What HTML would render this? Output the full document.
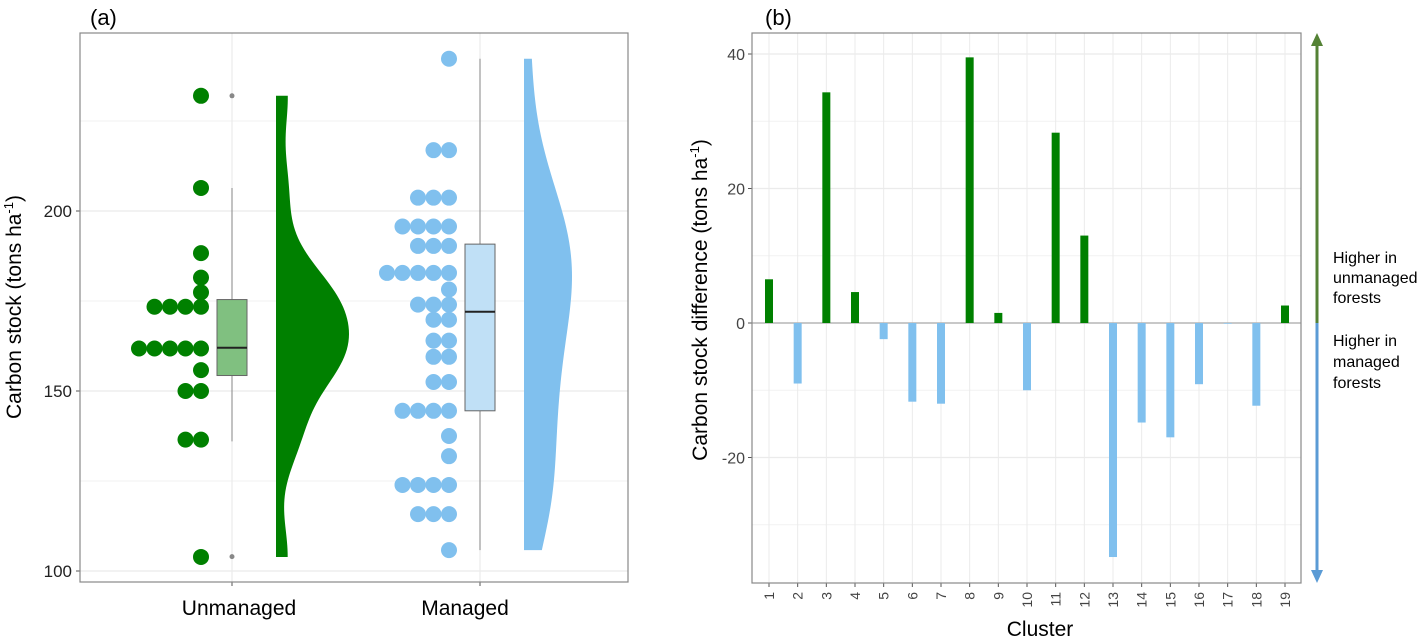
<!DOCTYPE html>
<html><head><meta charset="utf-8">
<style>
body{margin:0;background:#fff;}
svg{display:block;font-family:"Liberation Sans",Arial,sans-serif;}
</style></head>
<body>
<svg id="chart" width="1425" height="636" viewBox="0 0 1425 636">
</svg>
<script>
// ---- Panel (a) data: dot rows [value, count]
const unmanagedRowValues = [232, 206.4, 188.3, 181.5, 177.4, 173.4, 161.8, 155.8, 150, 136.5, 103.9];
const unmanagedRowCounts = [1, 1, 1, 1, 1, 4, 5, 1, 2, 2, 1];
const managedRowValues = [242.3, 216.9, 203.7, 195.7, 190.3, 182.8, 178.2, 174, 169.8, 164, 159.5, 152.5, 144.5, 137.5, 131.9, 123.9, 115.8, 105.8];
const managedRowCounts = [1, 2, 3, 4, 3, 5, 1, 3, 2, 2, 2, 2, 4, 1, 1, 4, 3, 1];
const unmanagedBox = [136, 154.3, 162, 175.4, 206.4]; // lower whisker, q1, median, q3, upper whisker
const managedBox = [105.8, 144.5, 172, 190.8, 242.3];
const unmanagedOutliers = [232, 104];
const aTicks = [100, 150, 200];
const aMinorTicks = [125, 175, 225];
const groupLabels = ["Unmanaged", "Managed"];
// ---- Panel (b) data
const clusters = ["1","2","3","4","5","6","7","8","9","10","11","12","13","14","15","16","17","18","19"];
const differences = [6.5, -9, 34.3, 4.6, -2.4, -11.7, -12, 39.5, 1.5, -10, 28.3, 13, -34.8, -14.8, -17, -9.1, -0.1, -12.3, 2.6];
const bTicks = [-20, 0, 20, 40];
const bMinorTicks = [-30, -10, 10, 30];

const NS = "http://www.w3.org/2000/svg";
const svg = document.getElementById('chart');
function mk(tag, attrs, parent){
  const e = document.createElementNS(NS, tag);
  for (const k in attrs) e.setAttribute(k, attrs[k]);
  (parent || svg).appendChild(e);
  return e;
}
const GREEN = "#008000", BLUE = "#80c0ee";

// ===== Panel A =====
const ax = {l:80, r:628, t:33, b:582};
const yA = v => 211 + (200 - v) * 3.6;
const gA = mk('g', {});


aMinorTicks.forEach(t => {
  const l = mk('line', {x1:ax.l, x2:ax.r, y1:yA(t), y2:yA(t), stroke:"#f2f2f2", "stroke-width":1}, gA);
  
  
});
aTicks.forEach(t => {
  const l = mk('line', {x1:ax.l, x2:ax.r, y1:yA(t), y2:yA(t), stroke:"#ebebeb", "stroke-width":1.2}, gA);
  
  
  const tk = mk('line', {x1:ax.l-4, x2:ax.l, y1:yA(t), y2:yA(t), stroke:"#555"}, gA);
  
  
  const tx = mk('text', {x:72, y:yA(t)+6, "text-anchor":"end", "font-size":17, fill:"#222"}, gA);
  tx.textContent = t;
  
  
});
const groupX = [232, 480];
const dotX = [201, 449];
const violinX = [276, 524];
const labelX = [239, 465];
groupX.forEach((gx, i) => {
  const l = mk('line', {x1:gx, x2:gx, y1:ax.t, y2:ax.b, stroke:"#ebebeb", "stroke-width":1.2}, gA);
  
  
  const tk = mk('line', {x1:gx, x2:gx, y1:ax.b, y2:ax.b+4, stroke:"#555"}, gA);
  
  
  const tx = mk('text', {x:labelX[i], y:615, "text-anchor":"middle", "font-size":21, fill:"#000"}, gA);
  tx.textContent = groupLabels[i];
  
  
});

// dots
function drawDots(vals, counts, cx, color, name){
  vals.forEach((v, i) => {
    for (let k = 0; k < counts[i]; k++){
      const c = mk('circle', {cx: cx - k*15.5, cy: yA(v), r: 8, fill: color}, gA);
      
      
    }
  });
}
drawDots(unmanagedRowValues, unmanagedRowCounts, dotX[0], GREEN, 'unmanaged-dot');
drawDots(managedRowValues, managedRowCounts, dotX[1], BLUE, 'managed-dot');

// boxes
function drawBox(b, cx, fill, name){
  const w = mk('line', {x1:cx, x2:cx, y1:yA(b[4]), y2:yA(b[0]), stroke:"#888", "stroke-width":1}, gA);
  
  
  const r = mk('rect', {x:cx-15, y:yA(b[3]), width:30, height:yA(b[1])-yA(b[3]), fill:fill, stroke:"#666", "stroke-width":1}, gA);
  
  
  const m = mk('line', {x1:cx-15, x2:cx+15, y1:yA(b[2]), y2:yA(b[2]), stroke:"#222", "stroke-width":2}, gA);
  
  
}
drawBox(unmanagedBox, groupX[0], "#80c080", 'unmanaged');
drawBox(managedBox, groupX[1], "#c0e0f6", 'managed');
unmanagedOutliers.forEach(v => {
  const c = mk('circle', {cx:groupX[0], cy:yA(v), r:2.5, fill:"#888"}, gA);
  
  
});

// half violins (KDE from dot data)
function drawViolin(vals, counts, x0, maxW, bw, color, name){
  const pts = [];
  vals.forEach((v, i) => { for (let k = 0; k < counts[i]; k++) pts.push(v); });
  const lo = Math.min(...pts), hi = Math.max(...pts);
  const N = 120, dens = [];
  for (let j = 0; j <= N; j++){
    const y = lo + (hi - lo) * j / N;
    let s = 0;
    pts.forEach(p => { const z = (y - p) / bw; s += Math.exp(-0.5*z*z); });
    dens.push([y, s]);
  }
  const mx = Math.max(...dens.map(d => d[1]));
  let d = `M${x0},${yA(lo)}`;
  dens.forEach(([y, s]) => { d += ` L${x0 + 4 + (maxW-4) * s / mx},${yA(y)}`; });
  d += ` L${x0},${yA(hi)} Z`;
  const p = mk('path', {d:d, fill:color}, gA);
  
  
}
drawViolin(unmanagedRowValues, unmanagedRowCounts, violinX[0], 73, 9, GREEN, 'unmanaged-violin');
drawViolin(managedRowValues, managedRowCounts, violinX[1], 48, 15, BLUE, 'managed-violin');

const frA = mk('rect', {x:ax.l, y:ax.t, width:ax.r-ax.l, height:ax.b-ax.t, fill:"none", stroke:"#888", "stroke-width":1.2}, gA);


const ytA = mk('text', {x:0, y:0, transform:"translate(21,307) rotate(-90)", "text-anchor":"middle", "font-size":21}, gA);
ytA.innerHTML = 'Carbon stock (tons ha<tspan dy="-8" font-size="13">-1</tspan><tspan dy="8">)</tspan>';


const la = mk('text', {x:90, y:25, "font-size":22}, gA);
la.textContent = "(a)";



// ===== Panel B =====
const bx = {l:752, r:1301, t:33, b:583};
const yB = v => 323 - v * 6.725;
const xB = i => 769 + i * (1285 - 769) / 18;
const gB = mk('g', {});


bMinorTicks.forEach(t => {
  const l = mk('line', {x1:bx.l, x2:bx.r, y1:yB(t), y2:yB(t), stroke:"#f2f2f2"}, gB);
  
  
});
bTicks.forEach(t => {
  const l = mk('line', {x1:bx.l, x2:bx.r, y1:yB(t), y2:yB(t), stroke:"#ebebeb", "stroke-width":1.2}, gB);
  
  
  const tk = mk('line', {x1:bx.l-4, x2:bx.l, y1:yB(t), y2:yB(t), stroke:"#555"}, gB);
  
  
  const tx = mk('text', {x:745, y:yB(t)+6, "text-anchor":"end", "font-size":16, fill:"#444"}, gB);
  tx.textContent = t;
  
  
});
clusters.forEach((c, i) => {
  const x = xB(i);
  const l = mk('line', {x1:x, x2:x, y1:bx.t, y2:bx.b, stroke:"#ebebeb"}, gB);
  
  
  const tk = mk('line', {x1:x, x2:x, y1:bx.b, y2:bx.b+4, stroke:"#555"}, gB);
  
  
  const tx = mk('text', {x:0, y:0, transform:`translate(${x+5},${bx.b+9}) rotate(-90)`, "text-anchor":"end", "font-size":14, fill:"#444"}, gB);
  tx.textContent = c;
  
  
});
const zl = mk('line', {x1:bx.l, x2:bx.r, y1:yB(0), y2:yB(0), stroke:"#aaa", "stroke-width":1.2}, gB);


differences.forEach((v, i) => {
  const x = xB(i);
  const y0 = yB(Math.max(v, 0)), y1 = yB(Math.min(v, 0));
  const r = mk('rect', {x:x-4, y:y0, width:8, height:Math.max(y1-y0, 0.5), fill: v >= 0 ? GREEN : BLUE}, gB);
  
  
});
const frB = mk('rect', {x:bx.l, y:bx.t, width:bx.r-bx.l, height:bx.b-bx.t, fill:"none", stroke:"#888", "stroke-width":1.2}, gB);


const ytB = mk('text', {x:0, y:0, transform:"translate(707,300) rotate(-90)", "text-anchor":"middle", "font-size":21}, gB);
ytB.innerHTML = 'Carbon stock difference (tons ha<tspan dy="-8" font-size="13">-1</tspan><tspan dy="8">)</tspan>';


const xtB = mk('text', {x:1040, y:636, "text-anchor":"middle", "font-size":21}, gB);
xtB.textContent = "Cluster";


const lb = mk('text', {x:765, y:25, "font-size":22}, gB);
lb.textContent = "(b)";



// arrows
const aG = mk('line', {x1:1317, x2:1317, y1:44, y2:yB(0), stroke:"#548235", "stroke-width":3}, gB);


const hG = mk('polygon', {points:"1311,46 1317,33 1323,46", fill:"#548235"}, gB);


const aBl = mk('line', {x1:1317, x2:1317, y1:yB(0), y2:572, stroke:"#5b9bd5", "stroke-width":3}, gB);


const hB = mk('polygon', {points:"1311,570 1317,583 1323,570", fill:"#5b9bd5"}, gB);


[["Higher in",257],["unmanaged",277],["forests",297]].forEach(([t,y]) => {
  const e = mk('text', {x:1333, y:y+6, "font-size":16}, gB);
  e.textContent = t;
  
  
});
[["Higher in",340],["managed",361],["forests",382]].forEach(([t,y]) => {
  const e = mk('text', {x:1333, y:y+6, "font-size":16}, gB);
  e.textContent = t;
  
  
});
</script>
</body></html>
